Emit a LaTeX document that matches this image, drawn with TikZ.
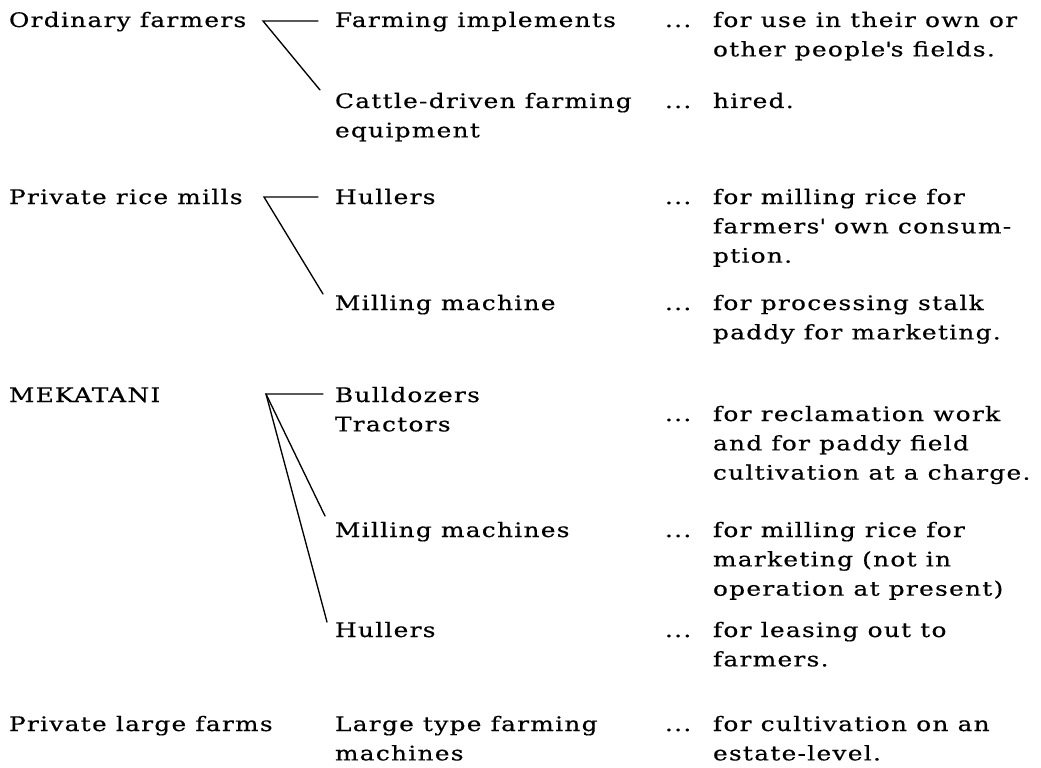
\documentclass[tikz,border=0pt]{standalone}
\usepackage{fontspec}
\setmainfont{DejaVu Serif}[FakeStretch=1.24,LetterSpace=6.5,FakeBold=0.5]
\newcommand{\apos}{\XeTeXglyph\XeTeXglyphindex "quotesingle"\relax}
\newcommand{\ml}[1]{\begin{tabular}[t]{@{}l@{}}#1\end{tabular}}
\begin{document}
\begin{tikzpicture}[x=0.75pt,y=-0.75pt,
  txt/.style={anchor=base west,inner sep=0pt,outer sep=0pt,
    font=\fontsize{15pt}{22pt}\selectfont},
  ln/.style={line width=1pt,line cap=round}]
\useasboundingbox (0,0) rectangle (1041,767);
% column 1
\node[txt] (of) at (9,27) {Ordinary farmers};
\node[txt] (prm) at (9,204) {Private rice mills};
\node[txt] (mek) at (9,402) {MEKATANI};
\node[txt] (plf) at (9,731) {Private large farms};
% column 2
\node[txt] (fi) at (335,27) {Farming implements};
\node[txt] (cd) at (335,108) {\ml{Cattle-driven farming\\equipment}};
\node[txt] (hu1) at (335,204) {Hullers};
\node[txt] (mm1) at (335,310) {Milling machine};
\node[txt] (bt) at (335,402) {\ml{Bulldozers\\Tractors}};
\node[txt] (mm2) at (335,537) {Milling machines};
\node[txt] (hu2) at (335,637) {Hullers};
\node[txt] (lt) at (335,731) {\ml{Large type farming\\machines}};
% column 3
\node[txt] (d1) at (665,27) {...};
\node[txt] (u1) at (713,27) {\ml{for use in their own or\\other people\apos s fields.}};
\node[txt] (d2) at (665,108) {...};
\node[txt] (u2) at (713,108) {hired.};
\node[txt] (d3) at (665,204) {...};
\node[txt] (u3) at (713,204) {\ml{for milling rice for\\farmers\apos{} own consum-\\ption.}};
\node[txt] (d4) at (665,310) {...};
\node[txt] (u4) at (713,310) {\ml{for processing stalk\\paddy for marketing.}};
\node[txt] (d5) at (665,421) {...};
\node[txt] (u5) at (713,421) {\ml{for reclamation work\\and for paddy field\\cultivation at a charge.}};
\node[txt] (d6) at (665,537) {...};
\node[txt] (u6) at (713,537) {\ml{for milling rice for\\marketing (not in\\operation at present)}};
\node[txt] (d7) at (665,637) {...};
\node[txt] (u7) at (713,637) {\ml{for leasing out to\\farmers.}};
\node[txt] (d8) at (665,731) {...};
\node[txt] (u8) at (713,731) {\ml{for cultivation on an\\estate-level.}};
% connectors
\coordinate (b1) at (263,21);
\coordinate (e1a) at (318,21);
\coordinate (e1b) at (320,90);
\coordinate (b2) at (264,197);
\coordinate (e2a) at (318,197);
\coordinate (e2b) at (323,294);
\coordinate (b3) at (266,394);
\coordinate (e3a) at (323,394);
\coordinate (e3b) at (325,516);
\coordinate (e3c) at (327,622);
\draw[ln] (e1a) -- (b1) -- (e1b);
\draw[ln] (e2a) -- (b2) -- (e2b);
\draw[ln] (e3a) -- (b3) -- (e3b);
\draw[ln] (b3) -- (e3c);
\end{tikzpicture}
\end{document}
